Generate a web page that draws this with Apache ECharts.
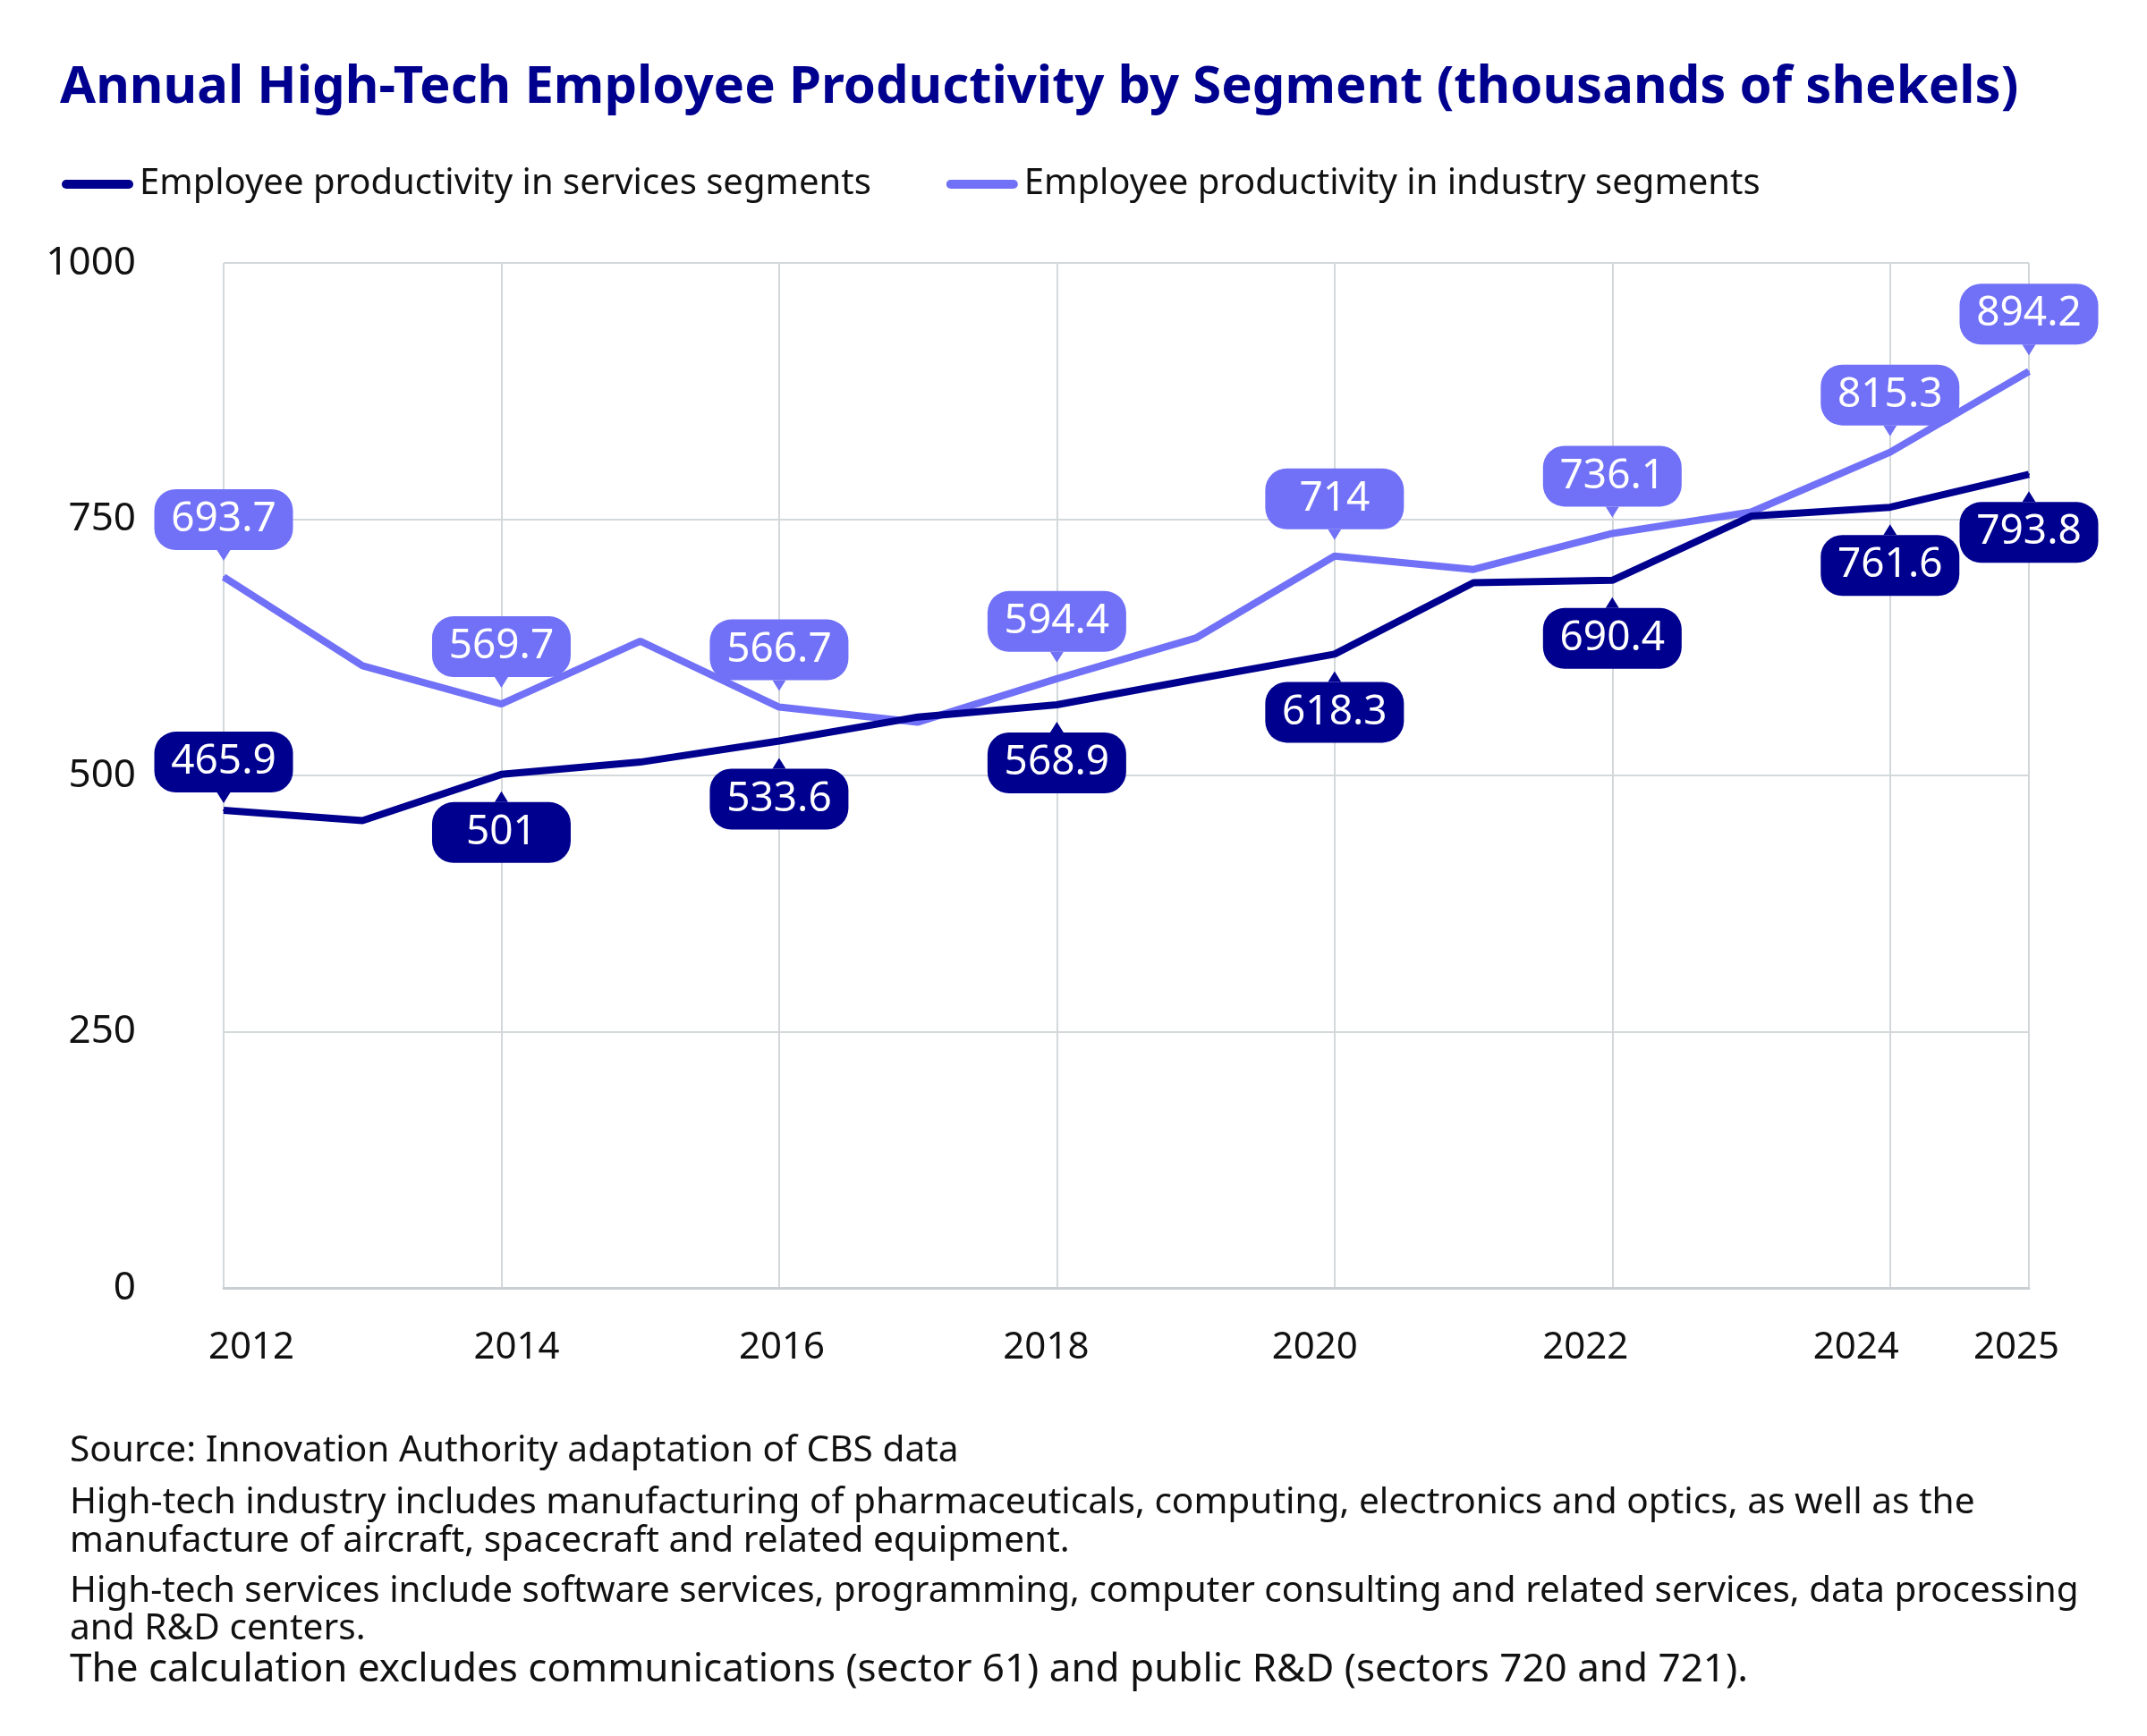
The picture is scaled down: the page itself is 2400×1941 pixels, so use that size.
<!DOCTYPE html>
<html lang="en">
<head>
    <meta charset="UTF-8">
    <title>High-Tech Employee Productivity</title>
    <script src="https://cdn.jsdelivr.net/npm/echarts@6/dist/echarts.min.js"></script>
    <style>
        html, body { margin: 0; padding: 0; background: #fff; }
        #main { width: 2400px; height: 1941px; }
    </style>
</head>
<body>
<div id="main"></div>
<script>
    // data
    var years = ['2012', '2013', '2014', '2015', '2016', '2017', '2018', '2019', '2020', '2021', '2022', '2023', '2024', '2025'];
    var services = [465.9, 456, 501, 513, 533.6, 557, 568.9, 594, 618.3, 688, 690.4, 753, 761.6, 793.8];
    var industry = [693.7, 607, 569.7, 631, 566.7, 552, 594.4, 634, 714, 701, 736.1, 757, 815.3, 894.2];
    var yTicks = [0, 250, 500, 750, 1000];

    var navy = '#00008f';
    var violet = '#7171f7';

    var TOP_GAP = 29;    // point -> bottom of bubble
    var BOTTOM_GAP = 30; // point -> top of bubble

    // only even years and the last year get labels / grid lines
    function shown(i) {
        return Number(years[i]) % 2 === 0 || i === years.length - 1;
    }
    function svcTop(i) { return i === 0; }
    function indTop() { return true; }
    // first services bubble sits tighter on its line
    function svcGap(i, isTop) { return i === 0 ? 19 : (isTop ? TOP_GAP : BOTTOM_GAP); }
    function indGap(i, isTop) { return isTop ? TOP_GAP : BOTTOM_GAP; }

    // x labels in the original are not centred on their ticks
    var xShift = { '2012': 31, '2014': 17, '2016': 3, '2018': -12, '2020': -22, '2022': -30, '2024': -38, '2025': -14 };
    var xRich = {};
    Object.keys(xShift).forEach(function (y) {
        var s = xShift[y];
        xRich['y' + y] = {
            fontFamily: 'Noto Sans', fontSize: 42, color: '#111',
            padding: s > 0 ? [0, 0, 0, 2 * s] : [0, -2 * s, 0, 0]
        };
    });

    function buildData(values, color, topIdx, gapFn) {
        return values.map(function (v, i) {
            var isTop = topIdx(i);
            return {
                value: v,
                label: {
                    show: shown(i),
                    position: isTop ? 'top' : 'bottom',
                    distance: gapFn(i, isTop),
                    formatter: '{c}',
                    backgroundColor: color, color: '#fff', borderRadius: 24,
                    fontFamily: 'Noto Sans', fontSize: 46, lineHeight: 48,
                    width: 123, align: 'center', padding: [10, 16]
                }
            };
        });
    }

    // small triangle pointers between each bubble and its point
    function pointerSeries(name, values, color, topIdx, gapFn) {
        return {
            name: name,
            type: 'scatter',
            silent: true,
            z: 5,
            itemStyle: { color: color, opacity: 1 },
            data: values.map(function (v, i) {
                if (!shown(i)) return '-';
                var isTop = topIdx(i);
                var g = gapFn(i, isTop) - 5;
                return {
                    value: v,
                    symbol: 'triangle',
                    symbolSize: [15, 12],
                    symbolRotate: isTop ? 180 : 0,
                    symbolOffset: [0, isTop ? -g : g]
                };
            })
        };
    }

    var chart = echarts.init(document.getElementById('main'));

    var footFont = '40.6px "Noto Sans"';

    var option = {
        backgroundColor: '#fff',
        animation: false,
        title: {
            text: 'Annual High-Tech Employee Productivity by Segment (thousands of shekels)',
            left: 62, top: 64,
            textStyle: { fontFamily: 'Noto Sans', fontWeight: 'bold', fontSize: 58, color: navy }
        },
        legend: {
            left: 64, top: 181,
            itemWidth: 80, itemHeight: 11, itemGap: 84,
            icon: 'path://M5,0 L75,0 A5,5 0 0 1 75,10 L5,10 A5,5 0 0 1 5,0 Z',
            textStyle: { fontFamily: 'Noto Sans', fontSize: 40, color: '#111', padding: [0, 0, 0, 2] },
            data: ['Employee productivity in services segments', 'Employee productivity in industry segments']
        },
        grid: { left: 250, right: 132, top: 294, bottom: 501, containLabel: false },
        xAxis: {
            type: 'category',
            data: years,
            boundaryGap: false,
            axisTick: { show: false },
            axisLine: { lineStyle: { color: '#c9cfd2', width: 3 } },
            axisLabel: {
                interval: function (i) { return shown(i); },
                margin: 46,
                formatter: function (v) { return '{y' + v + '|' + v + '}'; },
                rich: xRich
            },
            splitLine: {
                show: true,
                interval: function (i) { return shown(i); },
                lineStyle: { color: '#d3d8db', width: 2 }
            }
        },
        yAxis: {
            type: 'value',
            min: yTicks[0], max: yTicks[yTicks.length - 1], interval: 250,
            axisLine: { show: false },
            axisTick: { show: false },
            axisLabel: {
                margin: 98, fontFamily: 'Noto Sans', fontSize: 44, color: '#111',
                formatter: function (v) { return String(v); }
            },
            splitLine: { lineStyle: { color: '#d3d8db', width: 2 } }
        },
        series: [
            {
                name: 'Employee productivity in services segments',
                type: 'line',
                data: buildData(services, navy, svcTop, svcGap),
                symbol: 'circle', symbolSize: 2, showAllSymbol: true,
                itemStyle: { color: navy },
                lineStyle: { color: navy, width: 8 },
                z: 3
            },
            {
                name: 'Employee productivity in industry segments',
                type: 'line',
                data: buildData(industry, violet, indTop, indGap),
                symbol: 'circle', symbolSize: 2, showAllSymbol: true,
                itemStyle: { color: violet },
                lineStyle: { color: violet, width: 8 },
                z: 2
            },
            pointerSeries('svc-pointer', services, navy, svcTop, svcGap),
            pointerSeries('ind-pointer', industry, violet, indTop, indGap)
        ],
        graphic: [
            { type: 'text', left: 78, top: 1602, style: { text: 'Source: Innovation Authority adaptation of CBS data', font: footFont, fill: '#111' } },
            { type: 'text', left: 78, top: 1660, style: { text: 'High-tech industry includes manufacturing of pharmaceuticals, computing, electronics and optics, as well as the', font: footFont, fill: '#111' } },
            { type: 'text', left: 78, top: 1703, style: { text: 'manufacture of aircraft, spacecraft and related equipment.', font: footFont, fill: '#111' } },
            { type: 'text', left: 78, top: 1759, style: { text: 'High-tech services include software services, programming, computer consulting and related services, data processing', font: '40.4px "Noto Sans"', fill: '#111' } },
            { type: 'text', left: 78, top: 1801, style: { text: 'and R&D centers.', font: footFont, fill: '#111' } },
            { type: 'text', left: 78, top: 1845, style: { text: 'The calculation excludes communications (sector 61) and public R&D (sectors 720 and 721).', font: '44px "Noto Sans"', fill: '#111' } }
        ]
    };

    chart.setOption(option);
</script>
</body>
</html>
